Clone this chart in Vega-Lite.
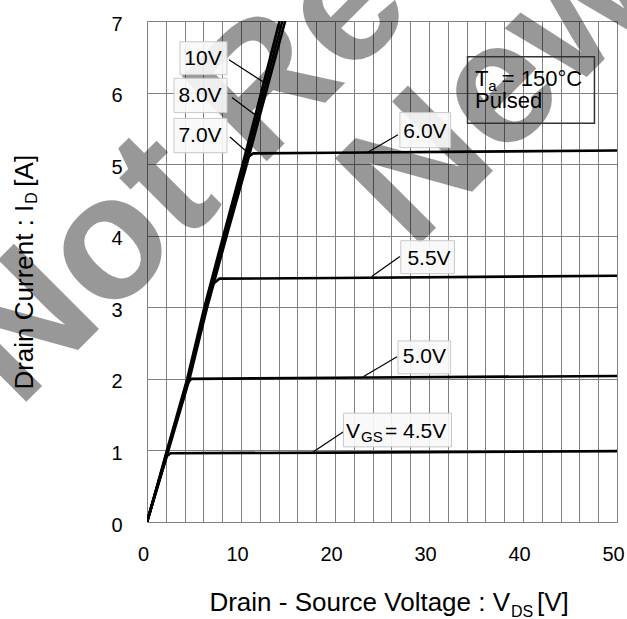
{
  "$schema": "https://vega.github.io/schema/vega-lite/v6.json",
  "width": 470,
  "height": 501,
  "autosize": {"type": "none"},
  "padding": {"left": 147, "top": 21, "right": 10, "bottom": 97},
  "background": "white",
  "config": {"view": {"stroke": null}, "font": "Liberation Sans", "text": {"font": "Liberation Sans", "color": "black"}},
  "datasets": {
    "curves": [
      {"vgs": "10V", "vds": 0, "id": 0}, {"vgs": "10V", "vds": 1.07, "id": 0.5}, {"vgs": "10V", "vds": 2.12, "id": 1}, {"vgs": "10V", "vds": 4.28, "id": 2}, {"vgs": "10V", "vds": 6.1, "id": 3}, {"vgs": "10V", "vds": 8.12, "id": 4}, {"vgs": "10V", "vds": 10.18, "id": 5}, {"vgs": "10V", "vds": 12.15, "id": 6}, {"vgs": "10V", "vds": 14.1, "id": 7}, {"vgs": "10V", "vds": 14.6, "id": 7.3},
      {"vgs": "8.0V", "vds": 0, "id": 0}, {"vgs": "8.0V", "vds": 1.1, "id": 0.5}, {"vgs": "8.0V", "vds": 2.2, "id": 1}, {"vgs": "8.0V", "vds": 4.4, "id": 2}, {"vgs": "8.0V", "vds": 6.25, "id": 3}, {"vgs": "8.0V", "vds": 8.3, "id": 4}, {"vgs": "8.0V", "vds": 10.4, "id": 5}, {"vgs": "8.0V", "vds": 12.4, "id": 6}, {"vgs": "8.0V", "vds": 14.4, "id": 7}, {"vgs": "8.0V", "vds": 15.0, "id": 7.3},
      {"vgs": "7.0V", "vds": 0, "id": 0}, {"vgs": "7.0V", "vds": 1.13, "id": 0.5}, {"vgs": "7.0V", "vds": 2.28, "id": 1}, {"vgs": "7.0V", "vds": 4.52, "id": 2}, {"vgs": "7.0V", "vds": 6.4, "id": 3}, {"vgs": "7.0V", "vds": 8.48, "id": 4}, {"vgs": "7.0V", "vds": 10.62, "id": 5}, {"vgs": "7.0V", "vds": 12.65, "id": 6}, {"vgs": "7.0V", "vds": 14.7, "id": 7}, {"vgs": "7.0V", "vds": 15.3, "id": 7.3},
      {"vgs": "6.0V", "vds": 0, "id": 0}, {"vgs": "6.0V", "vds": 1.1, "id": 0.5}, {"vgs": "6.0V", "vds": 2.2, "id": 1}, {"vgs": "6.0V", "vds": 4.4, "id": 2}, {"vgs": "6.0V", "vds": 6.25, "id": 3}, {"vgs": "6.0V", "vds": 8.3, "id": 4}, {"vgs": "6.0V", "vds": 10.4, "id": 5}, {"vgs": "6.0V", "vds": 10.75, "id": 5.1}, {"vgs": "6.0V", "vds": 11.3, "id": 5.15}, {"vgs": "6.0V", "vds": 20, "id": 5.16}, {"vgs": "6.0V", "vds": 35, "id": 5.175}, {"vgs": "6.0V", "vds": 50, "id": 5.19},
      {"vgs": "5.5V", "vds": 0, "id": 0}, {"vgs": "5.5V", "vds": 1.1, "id": 0.5}, {"vgs": "5.5V", "vds": 2.2, "id": 1}, {"vgs": "5.5V", "vds": 4.4, "id": 2}, {"vgs": "5.5V", "vds": 6.25, "id": 3}, {"vgs": "5.5V", "vds": 7.05, "id": 3.33}, {"vgs": "5.5V", "vds": 7.7, "id": 3.4}, {"vgs": "5.5V", "vds": 20, "id": 3.41}, {"vgs": "5.5V", "vds": 50, "id": 3.44},
      {"vgs": "5.0V", "vds": 0, "id": 0}, {"vgs": "5.0V", "vds": 1.1, "id": 0.5}, {"vgs": "5.0V", "vds": 2.2, "id": 1}, {"vgs": "5.0V", "vds": 4.25, "id": 1.93}, {"vgs": "5.0V", "vds": 4.7, "id": 2.0}, {"vgs": "5.0V", "vds": 20, "id": 2.015}, {"vgs": "5.0V", "vds": 50, "id": 2.04},
      {"vgs": "4.5V", "vds": 0, "id": 0}, {"vgs": "4.5V", "vds": 1.05, "id": 0.46}, {"vgs": "4.5V", "vds": 2.1, "id": 0.92}, {"vgs": "4.5V", "vds": 2.5, "id": 0.96}, {"vgs": "4.5V", "vds": 20, "id": 0.97}, {"vgs": "4.5V", "vds": 50, "id": 0.99}
    ],
    "leaders": [
      {"vds": 8.72, "id": 6.46, "vds2": 12.34, "id2": 6.15},
      {"vds": 9.04, "id": 5.93, "vds2": 11.49, "id2": 5.69},
      {"vds": 8.83, "id": 5.38, "vds2": 10.64, "id2": 5.17},
      {"vds": 26.7, "id": 5.41, "vds2": 23.4, "id2": 5.16},
      {"vds": 26.9, "id": 3.71, "vds2": 23.9, "id2": 3.43},
      {"vds": 26.6, "id": 2.31, "vds2": 23.0, "id2": 2.03},
      {"vds": 20.9, "id": 1.26, "vds2": 17.7, "id2": 0.98}
    ],
    "boxes": [
      {"vds": 3.51, "vds2": 8.51, "id": 6.25, "id2": 6.71},
      {"vds": 2.87, "vds2": 8.51, "id": 5.72, "id2": 6.2},
      {"vds": 2.87, "vds2": 8.51, "id": 5.16, "id2": 5.64},
      {"vds": 26.9, "vds2": 32.3, "id": 5.23, "id2": 5.72},
      {"vds": 27.0, "vds2": 32.7, "id": 3.47, "id2": 3.93},
      {"vds": 26.7, "vds2": 32.3, "id": 2.07, "id2": 2.53},
      {"vds": 20.9, "vds2": 32.4, "id": 1.05, "id2": 1.52}
    ],
    "labels": [
      {"vds": 5.96, "id": 6.47, "t": "10V"},
      {"vds": 5.64, "id": 5.95, "t": "8.0V"},
      {"vds": 5.64, "id": 5.39, "t": "7.0V"},
      {"vds": 29.57, "id": 5.45, "t": "6.0V"},
      {"vds": 30.0, "id": 3.67, "t": "5.5V"},
      {"vds": 29.5, "id": 2.3, "t": "5.0V"}
    ],
    "vgstexts": [
      {"vds": 21.17, "id": 1.18, "t": "V"},
      {"vds": 25.32, "id": 1.18, "t": "= 4.5V"}
    ],
    "tatexts": [
      {"vds": 34.89, "id": 6.098, "t": "T"},
      {"vds": 37.75, "id": 6.098, "t": "= 150°C"},
      {"vds": 34.89, "id": 5.79, "t": "Pulsed"}
    ],
    "subs": [
      {"vds": 22.77, "id": 1.119, "t": "GS"},
      {"vds": 36.3, "id": 6.028, "t": "a"}
    ],
    "watermark": [
      {"vds": -13.72, "id": 1.566, "t": "Not Recommended for"},
      {"vds": 28.19, "id": 3.776, "t": "New Designs"}
    ]
  },
  "encoding": {
    "x": {
      "field": "vds", "type": "quantitative",
      "scale": {"domain": [0, 50], "nice": false, "zero": false},
      "axis": {
        "title": null,
        "values": [0, 2, 4, 6, 8, 10, 12, 14, 16, 18, 20, 22, 24, 26, 28, 30, 32, 34, 36, 38, 40, 42, 44, 46, 48, 50],
        "labelExpr": "datum.value % 10 === 0 ? datum.label : ''",
        "grid": true, "gridColor": "#808080", "gridWidth": 1, "gridOpacity": 1,
        "ticks": false, "domain": false,
        "labelFont": "Liberation Sans", "labelFontSize": 20, "labelColor": "black",
        "labelPadding": 22, "labelOffset": -4,
        "labelOverlap": false, "labelFlush": false, "labelBound": false
      }
    },
    "y": {
      "field": "id", "type": "quantitative",
      "scale": {"domain": [0, 7], "nice": false, "zero": false},
      "axis": {
        "title": null,
        "values": [0, 1, 2, 3, 4, 5, 6, 7],
        "grid": true, "gridColor": "#808080", "gridWidth": 1, "gridOpacity": 1,
        "ticks": false, "domain": false,
        "labelFont": "Liberation Sans", "labelFontSize": 20, "labelColor": "black",
        "labelPadding": 25, "labelOffset": 3,
        "labelOverlap": false, "labelFlush": false, "labelBound": false
      }
    }
  },
  "layer": [
    {
      "data": {"name": "watermark"},
      "mark": {"type": "text", "angle": -45, "align": "left", "baseline": "alphabetic", "fontSize": 175, "fontWeight": "bold", "font": "Liberation Sans", "color": "black", "opacity": 0.4},
      "encoding": {"text": {"field": "t"}}
    },
    {
      "data": {"name": "curves"},
      "mark": {"type": "line", "color": "black", "strokeWidth": 2.6, "clip": true},
      "encoding": {"detail": {"field": "vgs"}}
    },
    {
      "data": {"name": "leaders"},
      "mark": {"type": "rule", "color": "black", "strokeWidth": 1.2},
      "encoding": {"x2": {"field": "vds2"}, "y2": {"field": "id2"}}
    },
    {
      "data": {"name": "boxes"},
      "mark": {"type": "rect", "fill": "#f8f8f8", "fillOpacity": 0.9, "stroke": "#c8c8c8", "strokeWidth": 1},
      "encoding": {"x2": {"field": "vds2"}, "y2": {"field": "id2"}}
    },
    {
      "data": {"values": [{"vds": 34.1, "vds2": 47.6, "id": 5.57, "id2": 6.5}]},
      "mark": {"type": "rect", "fill": null, "fillOpacity": 0, "stroke": "#333333", "strokeWidth": 1.5},
      "encoding": {"x2": {"field": "vds2"}, "y2": {"field": "id2"}}
    },
    {
      "data": {"name": "labels"},
      "mark": {"type": "text", "align": "center", "baseline": "middle", "fontSize": 21},
      "encoding": {"text": {"field": "t"}}
    },
    {
      "data": {"name": "vgstexts"},
      "mark": {"type": "text", "align": "left", "baseline": "alphabetic", "fontSize": 21},
      "encoding": {"text": {"field": "t"}}
    },
    {
      "data": {"name": "tatexts"},
      "mark": {"type": "text", "align": "left", "baseline": "alphabetic", "fontSize": 22},
      "encoding": {"text": {"field": "t"}}
    },
    {
      "data": {"name": "subs"},
      "mark": {"type": "text", "align": "left", "baseline": "alphabetic", "fontSize": 15},
      "encoding": {"text": {"field": "t"}}
    },
    {
      "data": {"values": [{"vds": 38.62, "id": -1.245, "t": "Drain - Source Voltage : V"}]},
      "mark": {"type": "text", "align": "right", "baseline": "alphabetic", "fontSize": 26},
      "encoding": {"text": {"field": "t"}}
    },
    {
      "data": {"values": [{"vds": 38.72, "id": -1.329, "t": "DS"}]},
      "mark": {"type": "text", "align": "left", "baseline": "alphabetic", "fontSize": 16},
      "encoding": {"text": {"field": "t"}}
    },
    {
      "data": {"values": [{"vds": 41.49, "id": -1.245, "t": "[V]"}]},
      "mark": {"type": "text", "align": "left", "baseline": "alphabetic", "fontSize": 26},
      "encoding": {"text": {"field": "t"}}
    },
    {
      "data": {"values": [{"vds": -12.13, "id": 4.434, "t": "Drain Current : I"}]},
      "mark": {"type": "text", "angle": -90, "align": "right", "baseline": "alphabetic", "fontSize": 26},
      "encoding": {"text": {"field": "t"}}
    },
    {
      "data": {"values": [{"vds": -11.7, "id": 4.448, "t": "D"}]},
      "mark": {"type": "text", "angle": -90, "align": "left", "baseline": "alphabetic", "fontSize": 16},
      "encoding": {"text": {"field": "t"}}
    },
    {
      "data": {"values": [{"vds": -12.13, "id": 4.685, "t": "[A]"}]},
      "mark": {"type": "text", "angle": -90, "align": "left", "baseline": "alphabetic", "fontSize": 26},
      "encoding": {"text": {"field": "t"}}
    }
  ]
}
